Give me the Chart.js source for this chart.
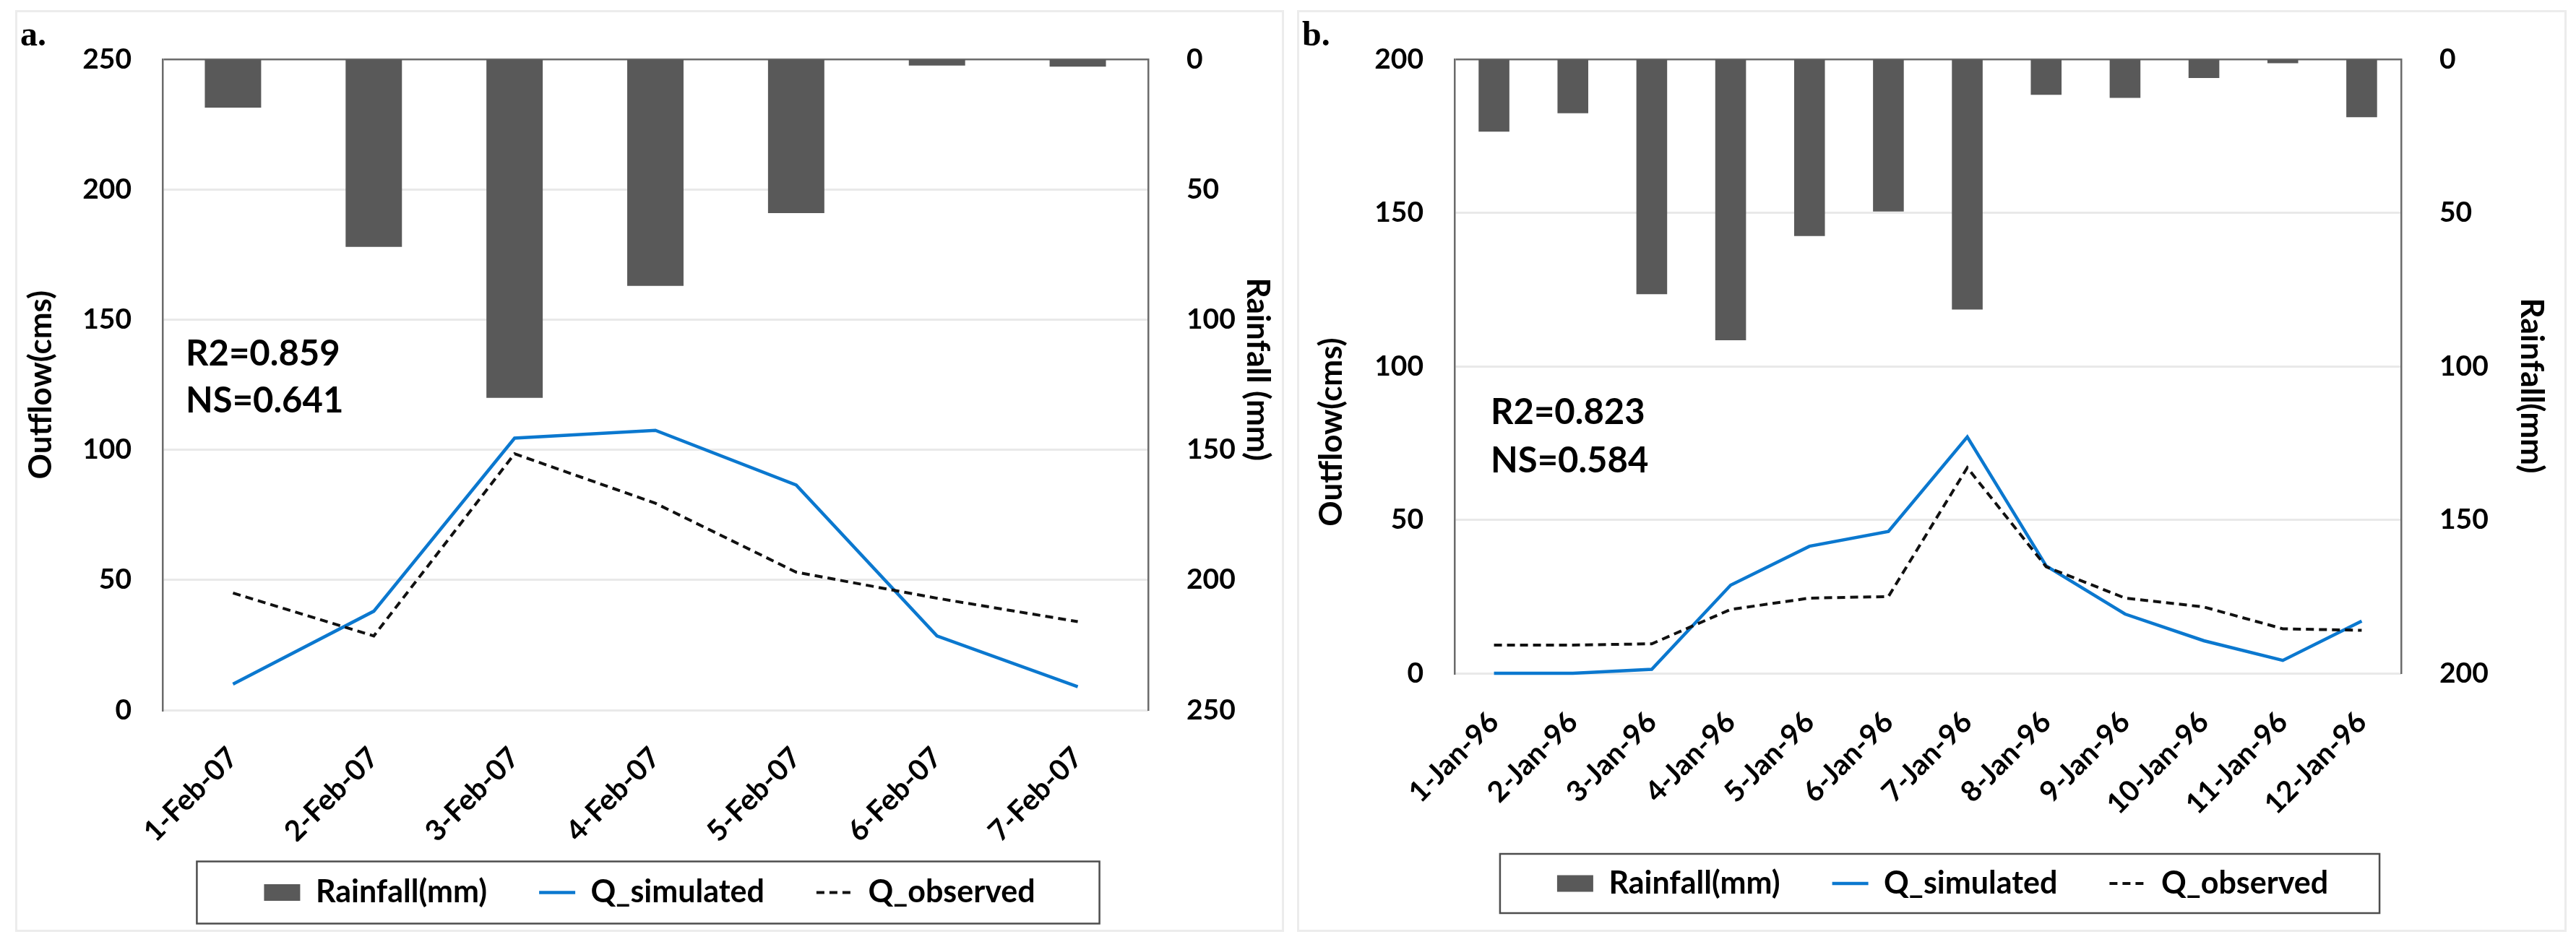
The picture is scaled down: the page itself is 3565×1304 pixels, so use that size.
<!DOCTYPE html>
<html>
<head>
<meta charset="utf-8">
<script src="https://cdn.jsdelivr.net/npm/chart.js@4.4.1/dist/chart.umd.min.js"></script>
<style>
  body { margin: 0; width: 3565px; height: 1304px; background: #fff; position: relative; overflow: hidden; }
  .panel { position: absolute; top: 14px; height: 1276px; border: 3px solid #ececec; box-sizing: border-box; }
  .wrap { position: absolute; top: 14px; height: 1276px; }
  .tag { position: absolute; font: bold 48px "Liberation Serif", serif; line-height: 48px; color: #000; }
  .stats { position: absolute; font-family: Lato, sans-serif; font-weight: bold; font-size: 49px; color: #000; }
</style>
</head>
<body>
<div class="panel" style="left:21px;width:1756px"></div>
<div class="panel" style="left:1795px;width:1757px"></div>
<div class="wrap" style="left:21px;width:1756px"><canvas id="chartA"></canvas></div>
<div class="wrap" style="left:1812px;width:1753px"><canvas id="chartB"></canvas></div>
<div class="tag" style="left:28px;top:23px">a.</div>
<div class="tag" style="left:1802px;top:23px">b.</div>
<div class="stats" style="left:257px;top:455px;line-height:65px">R2=0.859<br>NS=0.641</div>
<div class="stats" style="left:2063px;top:535px;line-height:67px">R2=0.823<br>NS=0.584</div>

<script>
// panel a - February 2007
var datesA = ['1-Feb-07', '2-Feb-07', '3-Feb-07', '4-Feb-07', '5-Feb-07', '6-Feb-07', '7-Feb-07'];
var rainA = [18.5, 72, 130, 87, 59, 2.3, 2.7];
var simA = [10, 38, 104.5, 107.5, 86.5, 28.5, 9];
var obsA = [45, 28.5, 98.5, 79.5, 53, 43, 34];

// panel b - January 1996
var datesB = ['1-Jan-96', '2-Jan-96', '3-Jan-96', '4-Jan-96', '5-Jan-96', '6-Jan-96',
              '7-Jan-96', '8-Jan-96', '9-Jan-96', '10-Jan-96', '11-Jan-96', '12-Jan-96'];
var rainB = [23.5, 17.5, 76.5, 91.5, 57.5, 49.5, 81.5, 11.5, 12.5, 6, 1.2, 18.8];
var simB = [0, 0, 1.3, 28.7, 41.4, 46.2, 77, 35, 19.3, 10.6, 4.2, 17];
var obsB = [9.2, 9.2, 9.6, 20.8, 24.5, 25, 67, 34.7, 24.5, 21.6, 14.5, 14];

var seriesNames = ['Rainfall(mm)', 'Q_simulated', 'Q_observed'];

var axisDark = '#6b6b6b';
var gridLight = '#e9e9e9';

// moves the legend a bit and draws the border round it, like the excel one
var legendBox = {
    id: 'legendBox',
    afterLayout: function (chart, args, opts) {
        if (chart.legend && opts.shift) {
            chart.legend.top += opts.shift;
            chart.legend.bottom += opts.shift;
        }
    },
    afterDraw: function (chart, args, opts) {
        var boxes = chart.legend && chart.legend.legendHitBoxes;
        if (!boxes || !boxes.length) return;
        var first = boxes[0], last = boxes[boxes.length - 1];
        var x0 = first.left - opts.padLeft;
        var x1 = last.left + last.width + opts.padRight;
        var y0 = first.top - opts.padY;
        var y1 = first.top + first.height + opts.padY;
        var ctx = chart.ctx;
        ctx.save();
        ctx.strokeStyle = '#4d4d4d';
        ctx.lineWidth = 2.5;
        ctx.strokeRect(x0, y0, x1 - x0, y1 - y0);
        ctx.restore();
    }
};

function tickFont(size) {
    return { family: 'Lato', weight: 'bold', size: size };
}

function buildChart(id, o) {
    return new Chart(document.getElementById(id), {
        data: {
            labels: o.labels,
            datasets: [{
                type: 'bar',
                label: seriesNames[0],
                data: o.rain,
                yAxisID: 'y1',
                backgroundColor: '#595959',
                borderWidth: 0,
                barPercentage: o.barPct,
                categoryPercentage: 1,
                pointStyle: 'rect',
                order: 2
            }, {
                type: 'line',
                label: seriesNames[1],
                data: o.sim,
                yAxisID: 'y',
                borderColor: '#0b78cf',
                borderWidth: 4.5,
                pointRadius: 0,
                pointStyle: 'line',
                clip: 8,
                order: 1
            }, {
                type: 'line',
                label: seriesNames[2],
                data: o.obs,
                yAxisID: 'y',
                borderColor: '#111111',
                borderWidth: 4,
                borderDash: [11, 7],
                pointRadius: 0,
                pointStyle: 'line',
                clip: 8,
                order: 0
            }]
        },
        options: {
            responsive: true,
            maintainAspectRatio: false,
            animation: false,
            layout: { padding: { left: 0, right: 0, top: 54, bottom: o.padBottom } },
            scales: {
                x: {
                    offset: true,
                    grid: { display: false },
                    border: { display: false },
                    ticks: { color: '#000', font: tickFont(40), autoSkip: false, maxRotation: 45, minRotation: 45, padding: o.xPad },
                    afterFit: function (s) { s.height = o.xHeight; }
                },
                y: {
                    position: 'left',
                    min: 0,
                    max: o.qMax,
                    ticks: { stepSize: 50, color: '#000', font: tickFont(39), padding: 43 },
                    grid: {
                        drawTicks: false,
                        color: function (c) { return c.tick.value === o.qMax ? axisDark : gridLight; },
                        lineWidth: function (c) { return c.tick.value === o.qMax ? 2.5 : 3; }
                    },
                    border: { display: true, color: axisDark, width: 2.5 },
                    title: { display: true, text: o.leftTitle, color: '#000', font: tickFont(44), padding: { top: o.leftTitlePad, bottom: 0 } },
                    afterFit: function (s) { s.width = o.leftWidth; }
                },
                y1: {
                    position: 'right',
                    reverse: true,
                    min: 0,
                    max: o.rMax,
                    ticks: { stepSize: 50, color: '#000', font: tickFont(39), padding: 45 },
                    grid: { display: false },
                    border: { display: true, color: axisDark, width: 2.5 },
                    title: { display: true, text: o.rightTitle, color: '#000', font: tickFont(44), padding: { top: o.rightTitlePad, bottom: 0 } },
                    afterFit: function (s) { s.width = o.rightWidth; }
                }
            },
            plugins: {
                tooltip: { enabled: false },
                legend: {
                    position: 'bottom',
                    labels: {
                        color: '#000',
                        font: tickFont(43),
                        usePointStyle: true,
                        pointStyleWidth: 50,
                        boxHeight: 23,
                        padding: 72,
                        sort: function (a, b) { return a.datasetIndex - b.datasetIndex; },
                        generateLabels: function (chart) {
                            var items = Chart.defaults.plugins.legend.labels.generateLabels(chart);
                            items.forEach(function (it) {
                                var ds = chart.data.datasets[it.datasetIndex];
                                if (ds.type === 'line') {
                                    it.lineDash = ds.borderDash || [];
                                    it.lineWidth = ds.borderWidth;
                                    it.strokeStyle = ds.borderColor;
                                } else {
                                    it.lineWidth = 0;
                                }
                            });
                            return items;
                        }
                    }
                },
                legendBox: o.legendPad
            }
        },
        plugins: [legendBox]
    });
}

// legend height = 43 + 72 + 10 = 125
buildChart('chartA', {
    labels: datesA, rain: rainA, sim: simA, obs: obsA,
    qMax: 250, rMax: 250, barPct: 0.4,
    leftTitle: 'Outflow(cms)',
    rightTitle: 'Rainfall (mm)    ',
    leftTitlePad: 9.6, rightTitlePad: 10.6,
    leftWidth: 204, rightWidth: 188,
    xHeight: 182, xPad: 34, padBottom: 0,
    legendPad: { padLeft: 93, padRight: 89, padY: 21.5, shift: -23 }
});

buildChart('chartB', {
    labels: datesB, rain: rainB, sim: simB, obs: obsB,
    qMax: 200, rMax: 200, barPct: 0.39,
    leftTitle: 'Outflow(cms)                 ',
    rightTitle: '     Rainfall(mm)',
    leftTitlePad: 4.6, rightTitlePad: 35.6,
    leftWidth: 201, rightWidth: 242,
    xHeight: 206, xPad: 36, padBottom: 27,
    legendPad: { padLeft: 79, padRight: 71, padY: 19.5, shift: -8.5 }
});
</script>
</body>
</html>
